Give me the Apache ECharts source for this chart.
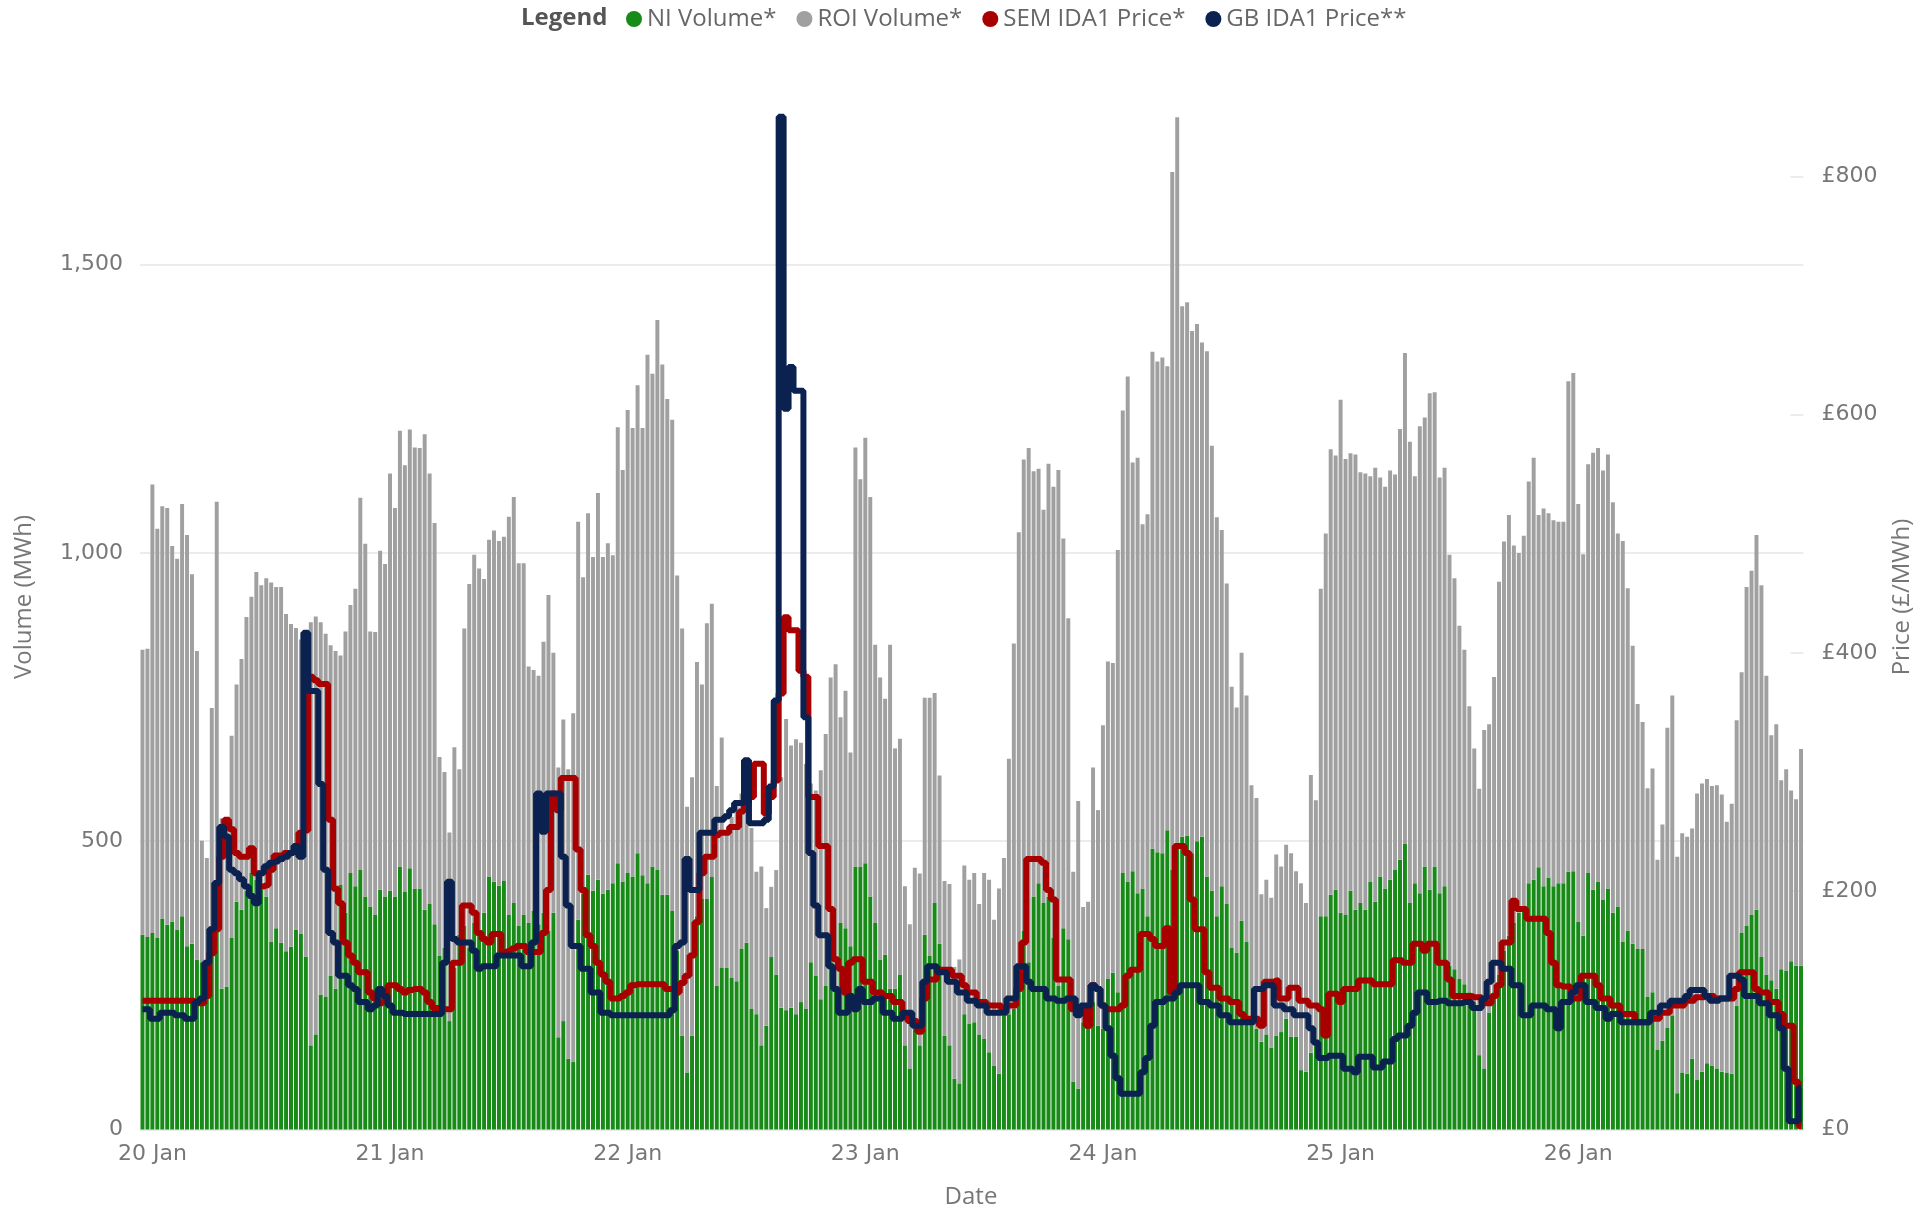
<!DOCTYPE html>
<html><head><meta charset="utf-8">
<script src="https://cdn.jsdelivr.net/npm/echarts@6/dist/echarts.min.js"></script>
<style>html,body{margin:0;padding:0;background:#fff}#chart{width:1921px;height:1209px}</style>
</head><body><div id="chart"></div>
<script>
const dayLabels = ['20 Jan','21 Jan','22 Jan','23 Jan','24 Jan','25 Jan','26 Jan'];
const volumeTicks = [0, 500, 1000, 1500];
const priceTicks = [0, 200, 400, 600, 800];

const niVolume = [
338,334,341,332,365,355,361,347,370,318,322,295,290,290,301,358,244,248,332,395,381,414,445,433,416,404,326,349,324,309,317,347,339,300,146,165,234,230,267,244,424,376,445,422,450,404,387,372,
416,404,414,404,456,412,453,418,418,381,391,356,301,315,188,280,338,353,315,358,347,376,439,430,423,431,372,393,353,372,358,379,356,376,345,376,160,188,123,117,364,410,442,414,433,409,416,427,
462,430,445,439,479,441,427,456,450,407,407,379,310,163,98,163,370,400,400,438,249,280,281,263,257,313,324,209,200,146,180,299,269,211,207,211,200,221,209,290,267,226,249,336,249,358,349,318,
456,456,462,404,358,295,303,244,244,269,146,106,175,146,338,301,393,322,163,146,88,80,200,183,186,165,157,134,111,97,198,200,209,278,345,290,404,427,393,404,333,249,349,330,83,71,186,198,
221,180,175,261,272,238,445,430,448,410,418,370,487,481,479,519,450,496,508,510,479,500,508,439,414,370,422,391,315,307,362,326,192,175,152,165,142,163,169,192,161,161,103,100,133,152,370,370,
407,416,376,372,414,381,393,381,430,395,439,418,433,450,468,496,393,427,410,456,416,456,410,422,284,278,261,252,238,221,129,106,203,238,269,310,336,358,376,384,427,433,455,422,437,422,427,427,
447,448,361,336,445,416,430,399,418,376,387,326,345,322,313,313,230,238,138,154,177,198,63,99,97,123,86,100,115,111,106,100,98,97,215,341,353,373,381,299,269,259,244,278,276,292,284,284
];

const roiVolume = [
494,500,778,710,716,723,651,643,715,713,641,535,211,181,430,731,296,272,351,377,435,475,479,534,528,552,623,592,617,585,560,523,511,560,734,725,646,630,573,586,398,488,465,516,646,612,477,491,
588,577,724,674,756,740,761,765,764,825,747,696,345,305,327,383,287,516,631,639,626,579,584,609,598,597,691,704,629,610,445,418,431,470,582,451,468,523,502,605,690,548,627,579,671,584,601,569,
756,714,803,778,812,776,917,855,954,920,860,852,651,706,462,448,441,372,478,474,347,400,238,279,306,270,224,314,247,310,204,122,181,400,505,455,477,450,425,310,321,397,437,448,558,357,412,336,
727,672,738,693,483,489,444,597,417,409,276,250,279,298,411,448,364,292,268,280,194,215,258,250,259,226,288,299,253,321,273,443,634,758,817,892,738,719,682,751,782,895,676,557,364,499,200,197,
407,374,526,551,537,767,802,876,709,755,632,697,862,851,860,805,1211,1260,920,925,906,897,857,911,772,692,618,556,453,425,465,427,405,400,256,268,260,314,287,302,318,287,324,293,482,419,568,664,
773,753,890,791,759,790,747,757,703,753,692,697,710,686,747,851,800,706,810,779,861,823,721,726,713,678,613,580,496,440,462,587,500,547,681,710,730,655,624,646,697,732,611,655,632,635,627,627,
851,864,724,662,709,758,752,744,753,712,647,695,594,517,425,394,362,388,330,375,520,555,410,415,411,399,497,500,493,485,491,481,436,468,495,452,588,596,650,645,518,425,459,328,349,296,289,376
];

const semPrice = [
108,108,108,108,108,108,108,108,108,108,108,106,106,112,148,168,229,260,252,232,229,229,236,215,204,205,218,230,230,232,232,234,249,251,380,377,374,374,260,202,190,157,146,140,132,132,115,110,
106,108,121,121,118,115,117,118,118,115,107,102,102,101,101,140,140,188,188,182,165,160,157,164,164,149,150,152,154,154,149,149,149,165,201,282,268,295,295,295,235,201,163,154,140,130,124,110,
110,112,115,121,122,122,122,122,122,122,118,118,115,123,129,146,174,215,229,229,247,249,249,254,254,267,274,279,307,307,265,279,293,366,430,419,419,385,380,279,279,238,238,185,143,135,115,140,
143,143,124,124,115,115,112,112,107,107,96,91,91,82,110,126,126,134,134,134,129,129,121,115,115,107,107,104,104,104,100,104,104,118,157,227,227,227,224,201,193,126,126,126,101,101,101,87,
121,118,104,101,101,101,104,129,134,134,164,164,160,154,154,169,115,238,238,232,193,168,168,132,119,119,110,110,107,107,97,93,93,93,87,124,124,125,110,110,119,119,108,108,104,104,101,79,
114,114,107,118,118,118,125,125,125,122,122,122,122,142,142,140,140,156,156,150,156,156,140,140,126,112,112,112,112,111,111,106,106,112,121,157,157,192,185,185,177,177,177,177,165,140,121,120,
120,110,110,129,129,129,121,110,110,104,104,97,97,97,90,90,90,93,93,98,98,104,104,104,108,108,111,111,112,112,110,110,110,110,118,132,132,132,118,115,115,107,107,97,87,87,40,3
];

const gbPrice = [
101,101,93,93,98,98,98,96,96,93,93,107,110,140,168,207,254,246,218,215,210,204,196,190,215,221,224,225,227,229,232,238,229,417,368,368,290,218,165,157,129,129,121,118,107,107,101,104,
118,112,104,98,98,97,97,97,97,97,97,97,97,140,208,160,157,157,157,150,135,137,137,137,146,146,146,146,146,137,137,157,282,250,282,282,282,229,188,154,154,135,135,115,115,98,98,96,
96,96,96,96,96,96,96,96,96,96,96,100,154,157,227,201,201,249,249,249,260,260,263,268,274,274,310,257,257,257,260,288,360,850,605,640,620,620,346,232,188,163,163,137,118,98,98,112,
101,118,107,107,110,110,98,98,93,93,98,98,87,87,124,137,137,132,132,124,124,115,115,108,108,104,104,98,98,98,98,110,110,137,137,124,118,118,118,110,110,108,108,110,110,96,104,104,
121,118,104,85,62,43,30,30,30,30,48,60,87,107,107,110,110,115,121,121,121,121,107,107,104,104,96,96,90,90,90,90,90,118,118,121,121,104,104,101,101,96,96,96,85,73,60,60,
62,62,62,51,51,48,61,61,61,52,52,57,57,76,79,79,87,98,115,115,107,107,108,108,106,106,106,107,107,102,102,110,124,140,140,135,135,121,121,96,96,104,104,104,101,101,85,107,
107,115,121,121,107,107,102,102,93,97,97,90,90,90,90,90,90,98,98,104,104,108,108,108,112,117,117,117,112,108,108,110,110,129,129,126,112,112,112,106,106,96,96,85,51,7,7,35
];

const categories = [];
dayLabels.forEach(function (d) {
  for (let k = 0; k < 48; k++) {
    const h = String(Math.floor(k / 2)).padStart(2, '0');
    categories.push(d + ' ' + h + (k % 2 ? ':30' : ':00'));
  }
});

const chart = echarts.init(document.getElementById('chart'));
const gridCol = '#e6e6e6';
const labelFont = { fontFamily: 'DejaVu Sans', fontSize: 22, color: '#777777' };
chart.setOption({
  animation: false,
  backgroundColor: '#ffffff',
  title: {
    text: 'Legend', left: 521, top: 6, padding: 0,
    textStyle: { fontFamily: 'Open Sans', fontWeight: 'bold', fontSize: 24, color: '#555555' }
  },
  legend: {
    left: 626, top: 7, padding: 0, icon: 'circle', itemWidth: 16, itemHeight: 16, itemGap: 20,
    textStyle: { fontFamily: 'Open Sans', fontSize: 24, color: '#666666' },
    data: ['NI Volume*', 'ROI Volume*', 'SEM IDA1 Price*', 'GB IDA1 Price**']
  },
  grid: { left: 140, right: 117.5, top: 116, bottom: 79.5, containLabel: false },
  xAxis: {
    type: 'category', data: categories, boundaryGap: true,
    axisLine: { show: false }, axisTick: { show: false }, splitLine: { show: false },
    axisLabel: Object.assign({
      interval: function (i) { return i % 48 === 2; },
      formatter: function (v) { return v.slice(0, 6); },
      margin: 14
    }, labelFont)
  },
  yAxis: [
    {
      type: 'value', min: 0, max: 1758, interval: 500,
      axisLine: { show: false }, axisTick: { show: false },
      splitLine: { show: true, lineStyle: { color: [gridCol, gridCol, gridCol, gridCol, 'rgba(0,0,0,0)'], width: 1.5 } },
      axisLabel: Object.assign({
        customValues: volumeTicks, margin: 17,
        formatter: function (v) { return v.toLocaleString('en-US'); }
      }, labelFont)
    },
    {
      type: 'value', min: 0, max: 850.7, interval: 200, position: 'right',
      axisLine: { show: false }, splitLine: { show: false },
      axisTick: { show: true, inside: true, length: 13, customValues: priceTicks.slice(1), lineStyle: { color: gridCol, width: 1.5 } },
      axisLabel: Object.assign({
        customValues: priceTicks, margin: 18,
        formatter: function (v) { return '£' + v; }
      }, labelFont)
    }
  ],
  graphic: [
    { type: 'text', x: 24, y: 597, rotation: Math.PI / 2,
      style: { text: 'Volume (MWh)', fontFamily: 'Open Sans', fontSize: 24, fill: '#777777', align: 'center', verticalAlign: 'middle', textAlign: 'center', textVerticalAlign: 'middle' } },
    { type: 'text', x: 1902, y: 597, rotation: Math.PI / 2,
      style: { text: 'Price (£/MWh)', fontFamily: 'Open Sans', fontSize: 24, fill: '#777777', align: 'center', verticalAlign: 'middle', textAlign: 'center', textVerticalAlign: 'middle' } },
    { type: 'text', x: 971, y: 1197,
      style: { text: 'Date', fontFamily: 'Open Sans', fontSize: 24, fill: '#777777', align: 'center', verticalAlign: 'middle', textAlign: 'center', textVerticalAlign: 'middle' } }
  ],
  series: [
    { name: 'NI Volume*', type: 'bar', stack: 'vol', data: niVolume, barCategoryGap: '20%',
      itemStyle: { color: '#178a17' }, z: 2 },
    { name: 'ROI Volume*', type: 'bar', stack: 'vol', data: roiVolume, barCategoryGap: '20%',
      itemStyle: { color: '#a0a0a0' }, z: 2 },
    { name: 'SEM IDA1 Price*', type: 'line', yAxisIndex: 1, step: 'middle', data: semPrice,
      showSymbol: false, symbol: 'none', itemStyle: { color: '#a80000' },
      lineStyle: { color: '#a80000', width: 6 }, z: 3 },
    { name: 'GB IDA1 Price**', type: 'line', yAxisIndex: 1, step: 'middle', data: gbPrice,
      showSymbol: false, symbol: 'none', itemStyle: { color: '#0b2150' },
      lineStyle: { color: '#0b2150', width: 6 }, z: 4 }
  ]
});
</script></body></html>
